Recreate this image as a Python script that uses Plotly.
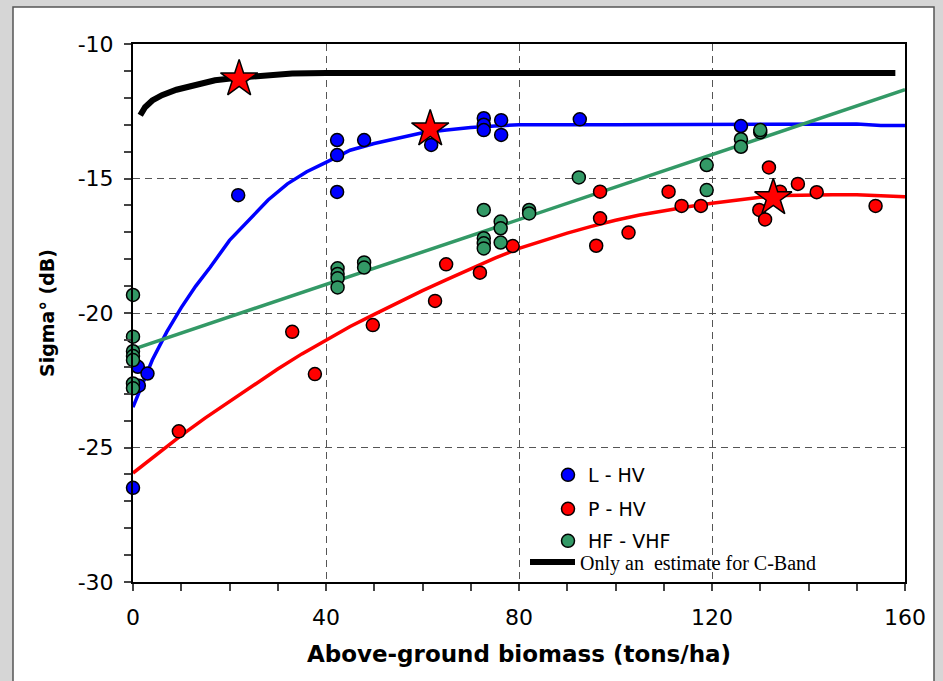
import plotly.graph_objects as go

# ---------------- data ----------------
# fitted curves
cband_x = [1.5, 2.5, 4, 6, 9, 13, 17, 22, 27, 33, 40, 80, 120, 158]
cband_y = [-12.65, -12.35, -12.1, -11.9, -11.7, -11.5, -11.35, -11.25, -11.17, -11.1, -11.08, -11.08, -11.08, -11.08]

lhv_fit_x = [0, 1.5, 4, 7, 10, 13, 16, 20, 24, 28, 32, 36, 40, 45, 50, 55, 60, 65, 70, 75, 80, 100, 120, 130, 150, 155, 160]
lhv_fit_y = [-23.5, -22.85, -21.75, -20.7, -19.8, -19.0, -18.3, -17.3, -16.55, -15.8, -15.2, -14.75, -14.4, -13.95,
             -13.7, -13.5, -13.3, -13.2, -13.1, -13.05, -13.0, -13.0, -13.0, -12.97, -12.97, -13.03, -13.03]

phv_fit_x = [0, 5, 10, 15, 20, 25, 30, 35, 40, 45, 50, 55, 60, 65, 70, 75, 80, 85, 90, 95, 100, 105, 110, 115,
             120, 125, 130, 135, 140, 145, 150, 155, 160]
phv_fit_y = [-25.95, -25.25, -24.55, -23.9, -23.3, -22.68, -22.08, -21.52, -21.0, -20.5, -20.05, -19.6, -19.17,
             -18.76, -18.36, -17.96, -17.6, -17.3, -17.03, -16.78, -16.55, -16.36, -16.2, -16.05, -15.92, -15.8,
             -15.7, -15.63, -15.6, -15.6, -15.6, -15.65, -15.68]

hf_fit_x = [0, 160]
hf_fit_y = [-21.35, -11.7]

# measured points
lhv_x = [0, 1.0, 3.0, 1.2, 21.8, 42.3, 42.3, 42.3, 47.9, 61.8, 72.7, 72.7, 72.7, 76.3, 76.3, 92.6, 126]
lhv_y = [-26.5, -22.0, -22.25, -22.7, -15.62, -13.57, -14.13, -15.5, -13.57, -13.75, -12.76, -13.0, -13.2,
         -12.83, -13.38, -12.8, -13.05]

phv_x = [9.5, 33, 37.7, 49.7, 62.6, 64.9, 71.9, 78.7, 96.8, 96.8, 96.0, 102.7, 111, 113.7, 117.7, 131.8, 129.8,
         131.0, 134.1, 137.8, 141.7, 153.9]
phv_y = [-24.4, -20.7, -22.27, -20.45, -19.55, -18.19, -18.5, -17.51, -15.49, -16.48, -17.5, -17.01, -15.49,
         -16.02, -16.02, -14.59, -16.17, -16.52, -15.49, -15.2, -15.51, -16.02]

hf_x = [0, 0, 0, 0, 0, 0, 0, 42.4, 42.4, 42.4, 42.4, 47.9, 47.9, 72.7, 72.7, 72.7, 72.7, 76.2, 76.2, 76.2,
        82.1, 82.1, 92.4, 118.9, 118.9, 126, 126, 130, 130]
hf_y = [-19.33, -20.88, -21.42, -21.6, -21.75, -22.62, -22.8, -18.34, -18.55, -18.71, -19.05, -18.12, -18.31,
        -16.17, -17.22, -17.41, -17.6, -16.6, -16.85, -17.38, -16.17, -16.3, -14.96, -14.5, -15.43, -13.54,
        -13.82, -13.28, -13.2]

star_x = [22.0, 61.6, 132.7]
star_y = [-11.3, -13.16, -15.72]

x_ticks = [0, 40, 80, 120, 160]
y_ticks = [-30, -25, -20, -15, -10]

# ---------------- figure ----------------
BLUE = "#0000ff"
RED = "#ff0000"
GREEN = "#339966"
SANS = "DejaVu Sans"

fig = go.Figure()

fig.add_trace(go.Scatter(x=cband_x, y=cband_y, mode="lines", line=dict(color="black", width=6),
                         name="Only an  estimate for C-Band", legend="legend4", cliponaxis=False))
fig.add_trace(go.Scatter(x=lhv_fit_x, y=lhv_fit_y, mode="lines", line=dict(color=BLUE, width=3.5),
                         showlegend=False))
fig.add_trace(go.Scatter(x=phv_fit_x, y=phv_fit_y, mode="lines", line=dict(color=RED, width=3.5),
                         showlegend=False))
fig.add_trace(go.Scatter(x=hf_fit_x, y=hf_fit_y, mode="lines", line=dict(color=GREEN, width=3.5),
                         showlegend=False))

mk_line = dict(color="black", width=1.5)
fig.add_trace(go.Scatter(x=lhv_x, y=lhv_y, mode="markers", name="L - HV", legend="legend",
                         marker=dict(color=BLUE, size=13, line=mk_line), cliponaxis=False))
fig.add_trace(go.Scatter(x=phv_x, y=phv_y, mode="markers", name="P - HV", legend="legend2",
                         marker=dict(color=RED, size=13, line=mk_line), cliponaxis=False))
fig.add_trace(go.Scatter(x=hf_x, y=hf_y, mode="markers", name="HF - VHF", legend="legend3",
                         marker=dict(color=GREEN, size=13, line=mk_line), cliponaxis=False))
fig.add_trace(go.Scatter(x=star_x, y=star_y, mode="markers", showlegend=False,
                         marker=dict(symbol="star", color=RED, size=28, line=mk_line), cliponaxis=False))

L, R, T, B = 133, 38, 44, 99
PW, PH = 943 - L - R, 681 - T - B


def px2x(p):
    return (p - L) / PW


def py2y(p):
    return (681 - B - p) / PH


leg_common = dict(bgcolor="rgba(0,0,0,0)", borderwidth=0, xanchor="left", yanchor="middle",
                  font=dict(family=SANS, size=19, color="black"))

fig.update_layout(
    width=943, height=681,
    margin=dict(l=L, r=R, t=T, b=B),
    paper_bgcolor="#d6d6d6",
    plot_bgcolor="white",
    legend=dict(x=px2x(548), y=py2y(475), **leg_common),
    legend2=dict(x=px2x(548), y=py2y(509), **leg_common),
    legend3=dict(x=px2x(548), y=py2y(541), **leg_common),
    legend4=dict(x=px2x(525), y=py2y(562), bgcolor="rgba(0,0,0,0)", xanchor="left", yanchor="middle",
                 itemwidth=45,
                 font=dict(family="Liberation Serif", size=20, color="black")),
    shapes=[dict(type="rect", xref="paper", yref="paper", layer="below",
                 x0=px2x(13), x1=px2x(934), y0=py2y(700), y1=py2y(7),
                 fillcolor="white", line=dict(color="#555555", width=1.5))],
)

fig.update_xaxes(
    range=[0, 160], tickvals=x_ticks, ticktext=[str(v) for v in x_ticks],
    showline=True, linecolor="black", linewidth=2, mirror=True,
    ticks="outside", ticklen=7, tickcolor="#444444", tickwidth=1.5,
    minor=dict(dtick=10, tick0=0, ticks="outside", ticklen=7, tickcolor="#444444", tickwidth=1.5, showgrid=False),
    showgrid=True, gridcolor="#555555", gridwidth=1, griddash="7px,5px", zeroline=False,
    tickfont=dict(family=SANS, size=22, color="black"), ticklabelstandoff=8,
    title=dict(text="Above-ground biomass (tons/ha)", standoff=16,
               font=dict(family=SANS, size=23, color="black", weight="bold")),
)
fig.update_yaxes(
    range=[-30, -10], tickvals=y_ticks, ticktext=[str(v) for v in y_ticks],
    showline=True, linecolor="black", linewidth=2, mirror=True,
    ticks="outside", ticklen=7, tickcolor="#444444", tickwidth=1.5,
    minor=dict(dtick=1, tick0=0, ticks="outside", ticklen=7, tickcolor="#444444", tickwidth=1.5, showgrid=False),
    showgrid=True, gridcolor="#555555", gridwidth=1, griddash="7px,5px", zeroline=False,
    tickfont=dict(family=SANS, size=22, color="black"), ticklabelstandoff=6,
    title=dict(text="Sigma° (dB)", standoff=18,
               font=dict(family=SANS, size=19, color="black", weight="bold")),
)

fig.write_html("out.html", config={"displayModeBar": False},
               post_script="document.body.style.margin='0px';")
